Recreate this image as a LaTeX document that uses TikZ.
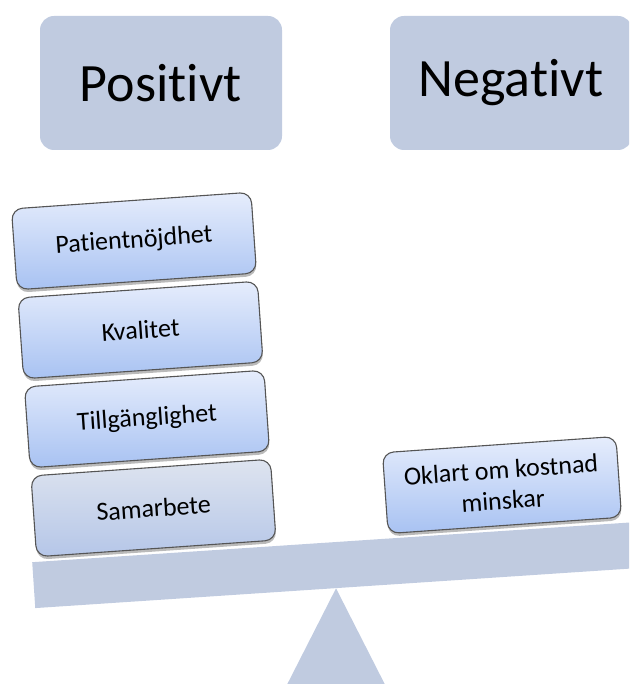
\documentclass[tikz,border=0pt]{standalone}
\usepackage{fontspec}
\setmainfont{Carlito}[Ligatures=NoCommon]
\usetikzlibrary{shadows,calc}

\definecolor{headblue}{RGB}{192,203,224}
\definecolor{itemtop}{RGB}{230,237,252}
\definecolor{itembot}{RGB}{168,194,242}
\definecolor{greytop}{RGB}{222,228,239}
\definecolor{greybot}{RGB}{181,198,232}
\definecolor{rimgrey}{RGB}{85,85,85}

\tikzset{
  headbox/.style={rectangle, rounded corners=14pt, fill=headblue,
    minimum width=242pt, minimum height=134pt, inner sep=0pt,
    font=\fontsize{54}{60}\selectfont},
  itembox/.style={rectangle, rounded corners=11pt, draw=rimgrey, line width=1.1pt,
    top color=itemtop, bottom color=itembot, rotate=4,
    minimum width=240pt, minimum height=81pt, inner sep=0pt, align=center,
    font=\fontsize{26}{31}\selectfont,
    drop shadow={shadow xshift=0.5pt, shadow yshift=-3pt, opacity=0.45, fill=black!60}},
  greyitem/.style={itembox, top color=greytop, bottom color=greybot},
  beambar/.style={rectangle, fill=headblue, rotate=3.8, inner sep=0pt,
    minimum width=640pt, minimum height=46pt, anchor=north west},
}

\begin{document}
\begin{tikzpicture}[x=1pt, y=-1pt]
  \useasboundingbox (0,0) rectangle (629,684);
  \clip (0,0) rectangle (629,684);

  % column headings
  \node[headbox] (pos) at (161,83) {Positivt};
  \node[headbox] (neg) at (511,83) {Negativt};

  % beam of the balance and its pivot
  \node[beambar] (beam) at (32,562) {};
  \coordinate (apex) at ($(beam.south west)!0.471!(beam.south east)$);
  \coordinate (baseL) at ($(apex)+(-58,114)$);
  \coordinate (baseR) at ($(apex)+(58,114)$);
  \fill[headblue] (apex) -- (baseL) -- (baseR) -- cycle;

  % weights on the positive side
  \node[itembox]  (p1) at (134,241) {Patientnöjdhet};
  \node[itembox]  (p2) at (140.5,330) {Kvalitet};
  \node[itembox]  (p3) at (147,419) {Tillgänglighet};
  \node[greyitem] (p4) at (153.5,508) {Samarbete};

  % weight on the negative side
  \node[itembox, minimum width=234pt] (n1) at (502,485) {Oklart om kostnad\\minskar};
\end{tikzpicture}
\end{document}
